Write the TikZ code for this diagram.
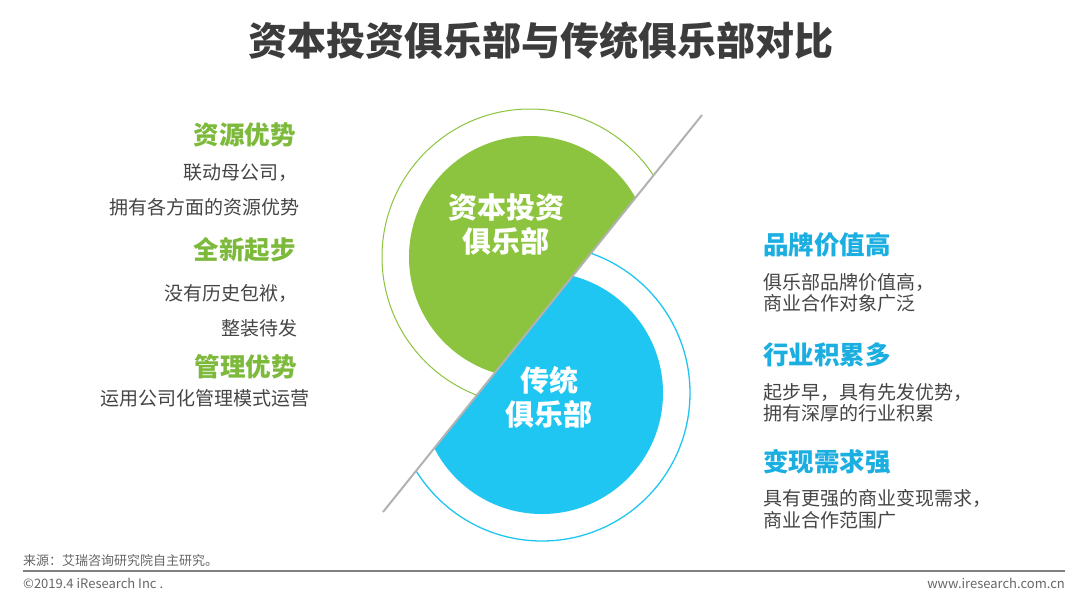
\documentclass[tikz,border=0pt]{standalone}
\usepackage{fontspec}
\setmainfont{Noto Sans CJK SC}
\definecolor{gfill}{HTML}{8DC43F}
\definecolor{bfill}{HTML}{1FC6F1}
\definecolor{ghead}{HTML}{7DBA3C}
\definecolor{bhead}{HTML}{1BAEE1}
\definecolor{bodyc}{HTML}{454545}
\definecolor{titlec}{HTML}{3C3C3C}
\definecolor{footc}{HTML}{666666}
\tikzset{
  body/.style={font=\fontsize{19}{22}\selectfont, text=bodyc, inner sep=0pt},
  ghd/.style={font=\fontsize{25.5}{28}\selectfont\bfseries, text=ghead, inner sep=0pt},
  bhd/.style={font=\fontsize{25.5}{28}\selectfont\bfseries, text=bhead, inner sep=0pt},
  disctxt/.style={font=\fontsize{29}{36}\selectfont\bfseries, text=white, align=center, inner sep=0pt},
  foot/.style={font=\fontsize{13}{15}\selectfont, text=footc, inner sep=0pt},
}
\begin{document}
\begin{tikzpicture}[x=1pt,y=-1pt]
\useasboundingbox (0,0) rectangle (1080,598);
\fill[white] (0,0) rectangle (1080,598);
% geometry
\coordinate (G) at (530,257);
\coordinate (B) at (542,393);
\coordinate (L1) at (702,115);
\coordinate (L2) at (383,512);
% green half (upper-left of line)
\begin{scope}
  \clip (861.5,-83.5) -- (223.5,710.5) -- (-300,710.5) -- (-300,-83.5) -- cycle;
  \fill[gfill] (G) circle[radius=121];
  \draw[gfill, line width=1pt] (G) circle[radius=148];
\end{scope}
% blue half (lower-right of line)
\begin{scope}
  \clip (861.5,-83.5) -- (223.5,710.5) -- (1400,710.5) -- (1400,-83.5) -- cycle;
  \fill[bfill] (B) circle[radius=121];
  \draw[bfill, line width=1.3pt] (B) circle[radius=148];
\end{scope}
\draw[color=black!30, line width=2pt] (L1) -- (L2);
% title
\node[font=\fontsize{39}{44}\selectfont\bfseries, text=titlec, inner sep=0pt] (title) at (541,41) {资本投资俱乐部与传统俱乐部对比};
% disc texts
\node[disctxt] (gt) at (506,225) {资本投资\\[-2pt]俱乐部};
\node[disctxt] (bt) at (549,397) {传统\\[-2pt]俱乐部};
% left
\node[ghd, anchor=east] (l1h) at (296,135) {资源优势};
\node[body, anchor=east] (l1a) at (298,173) {联动母公司，};
\node[body, anchor=east] (l1b) at (300,207) {拥有各方面的资源优势};
\node[ghd, anchor=east] (l2h) at (296,250) {全新起步};
\node[body, anchor=east] (l2a) at (298,293) {没有历史包袱，};
\node[body, anchor=east] (l2b) at (298,328) {整装待发};
\node[ghd, anchor=east] (l3h) at (297,367) {管理优势};
\node[body, anchor=east] (l3a) at (310,398) {运用公司化管理模式运营};
% right
\node[bhd, anchor=west] (r1h) at (763,245) {品牌价值高};
\node[body, anchor=west] (r1a) at (763,282) {俱乐部品牌价值高，};
\node[body, anchor=west] (r1b) at (763,303) {商业合作对象广泛};
\node[bhd, anchor=west] (r2h) at (763,355) {行业积累多};
\node[body, anchor=west] (r2a) at (763,392) {起步早，具有先发优势，};
\node[body, anchor=west] (r2b) at (763,413) {拥有深厚的行业积累};
\node[bhd, anchor=west] (r3h) at (763,462) {变现需求强};
\node[body, anchor=west] (r3a) at (763,498) {具有更强的商业变现需求，};
\node[body, anchor=west] (r3b) at (763,520) {商业合作范围广};
% footer
\node[foot, anchor=west] (src) at (23,561) {来源：艾瑞咨询研究院自主研究。};
\draw[color=black!50, line width=1.5pt] (23,571) -- (1065,571);
\node[foot, anchor=west] (copy) at (23,583) {©2019.4 iResearch Inc .};
\node[foot, anchor=east] (web) at (1065,583) {www.iresearch.com.cn};
\end{tikzpicture}
\end{document}
